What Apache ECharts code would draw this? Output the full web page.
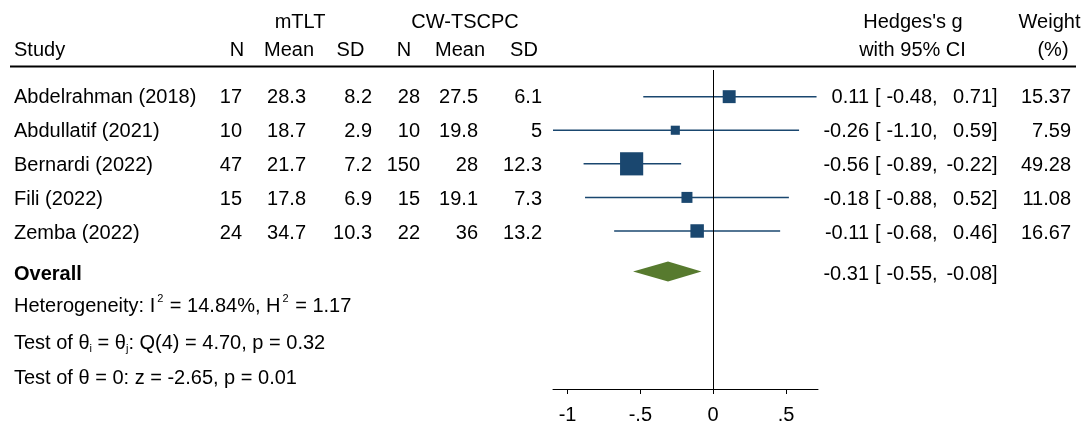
<!DOCTYPE html>
<html>
<head>
<meta charset="utf-8">
<script src="https://cdn.jsdelivr.net/npm/echarts@6/dist/echarts.min.js"></script>
<style>
  html, body { margin: 0; padding: 0; background: #fff; }
  #chart { width: 1086px; height: 425px; }
</style>
</head>
<body>
<div id="chart"></div>
<script>
// Study-level data
const studies = ['Abdelrahman (2018)', 'Abdullatif (2021)', 'Bernardi (2022)', 'Fili (2022)', 'Zemba (2022)'];
const mtltN = [17, 10, 47, 15, 24];
const mtltMean = [28.3, 18.7, 21.7, 17.8, 34.7];
const mtltSD = [8.2, 2.9, 7.2, 6.9, 10.3];
const cwN = [28, 10, 150, 15, 22];
const cwMean = [27.5, 19.8, 28, 19.1, 36];
const cwSD = [6.1, 5, 12.3, 7.3, 13.2];
const hedgesG = [0.11, -0.26, -0.56, -0.18, -0.11];
const ciLower = [-0.48, -1.10, -0.89, -0.88, -0.68];
const ciUpper = [0.71, 0.59, -0.22, 0.52, 0.46];
const weights = [15.37, 7.59, 49.28, 11.08, 16.67];
// Pooled estimate: [g, lower, upper]
const overallEffect = [-0.31, -0.55, -0.08];
const xTicks = [-1, -0.5, 0, 0.5];

const FONT = '"Liberation Sans", Arial, Helvetica, sans-serif';
const FS = 20;
const NAVY = '#1a476f';
const GREEN = '#577a2e';

// Row layout (row units; one study row = 34px)
const ROW_OVERALL = 5.206;
const ROW_STATS = [6.176, 7.235, 8.265];
const ROW_HEAD1 = -2.206;
const ROW_HEAD2 = -1.368;
const ROW_RULE = -0.897;

const fmt2 = v => v.toFixed(2);
const tickFmt = v => {
  if (v === 0) return '0';
  return String(v).replace(/^(-?)0\./, '$1.');
};

// Table text
const texts = [];
function put(x, row, text, align, extra) {
  texts.push(Object.assign({ x, row, text, align }, extra || {}));
}
put(300, ROW_HEAD1, 'mTLT', 'center');
put(465, ROW_HEAD1, 'CW-TSCPC', 'center');
put(14, ROW_HEAD2, 'Study', 'left');
put(237, ROW_HEAD2, 'N', 'center');
put(289, ROW_HEAD2, 'Mean', 'center');
put(350.5, ROW_HEAD2, 'SD', 'center');
put(404, ROW_HEAD2, 'N', 'center');
put(460, ROW_HEAD2, 'Mean', 'center');
put(524, ROW_HEAD2, 'SD', 'center');
put(913, ROW_HEAD1, "Hedges's g", 'center');
put(912.5, ROW_HEAD2, 'with 95% CI', 'center');
put(1049.5, ROW_HEAD1, 'Weight', 'center');
put(1053, ROW_HEAD2, '(%)', 'center');

function ciText(row, g, lo, hi) {
  put(869, row, fmt2(g), 'right');
  put(875, row, '[', 'left');
  put(932, row, fmt2(lo), 'right');
  put(932, row, ',', 'left');
  put(992, row, fmt2(hi), 'right');
  put(992, row, ']', 'left');
}

studies.forEach((s, i) => {
  put(14, i, s, 'left');
  put(242, i, String(mtltN[i]), 'right');
  put(306, i, String(mtltMean[i]), 'right');
  put(372, i, String(mtltSD[i]), 'right');
  put(420, i, String(cwN[i]), 'right');
  put(478, i, String(cwMean[i]), 'right');
  put(542, i, String(cwSD[i]), 'right');
  ciText(i, hedgesG[i], ciLower[i], ciUpper[i]);
  put(1071, i, fmt2(weights[i]), 'right');
});
put(14, ROW_OVERALL, 'Overall', 'left', { bold: true });
ciText(ROW_OVERALL, overallEffect[0], overallEffect[1], overallEffect[2]);
put(14, ROW_STATS[0], 'Heterogeneity: I{sup|2} = 14.84%, H{sup|2} = 1.17', 'left', { rich: 'sup' });
put(14, ROW_STATS[1], 'Test of θ{sub|i} = θ{sub|j}: Q(4) = 4.70, p = 0.32', 'left', { rich: 'sub' });
put(14, ROW_STATS[2], 'Test of θ = 0: z = -2.65, p = 0.01', 'left');

const chart = echarts.init(document.getElementById('chart'), null, { renderer: 'canvas' });

const option = {
  animation: false,
  backgroundColor: '#fff',
  grid: [
    { left: 553, width: 265, top: 70, height: 323 },
    { left: 0, width: 1086, top: 0, height: 425 }
  ],
  xAxis: [
    {
      gridIndex: 0, type: 'value', min: -1.1, max: 0.72,
      axisLine: { show: true, onZero: false, lineStyle: { color: '#000', width: 1 } },
      axisTick: { show: true, customValues: xTicks, length: 5, lineStyle: { color: '#000', width: 1 } },
      axisLabel: {
        show: true, customValues: xTicks, formatter: tickFmt, margin: 16,
        color: '#000', fontSize: FS, fontFamily: FONT
      },
      splitLine: { show: false }
    },
    { gridIndex: 1, type: 'value', min: 0, max: 1086, show: false }
  ],
  yAxis: [
    { gridIndex: 0, type: 'value', min: -0.794, max: 8.706, inverse: true, show: false },
    { gridIndex: 1, type: 'value', min: -97 / 34, max: (425 - 97) / 34, inverse: true, show: false }
  ],
  series: [
    {
      // confidence intervals and weighted squares
      type: 'custom', xAxisIndex: 0, yAxisIndex: 0,
      data: studies.map((s, i) => [hedgesG[i], ciLower[i], ciUpper[i], weights[i], i]),
      encode: { x: [0, 1, 2], y: 4 },
      renderItem: (params, api) => {
        const row = api.value(4);
        const est = api.coord([api.value(0), row]);
        const lo = api.coord([api.value(1), row]);
        const hi = api.coord([api.value(2), row]);
        const side = 3.3 * Math.sqrt(api.value(3));
        return {
          type: 'group',
          children: [
            { type: 'line', shape: { x1: lo[0], y1: lo[1], x2: hi[0], y2: hi[1] },
              style: { stroke: NAVY, lineWidth: 1.5 } },
            { type: 'rect', shape: { x: est[0] - side / 2, y: est[1] - side / 2, width: side, height: side },
              style: { fill: NAVY } }
          ]
        };
      },
      markLine: {
        silent: true, symbol: ['none', 'none'],
        label: { show: false },
        lineStyle: { color: '#000', width: 1, type: 'solid' },
        data: [{ xAxis: 0 }]
      },
      z: 3
    },
    {
      // pooled diamond
      type: 'custom', xAxisIndex: 0, yAxisIndex: 0,
      data: [[overallEffect[0], overallEffect[1], overallEffect[2], ROW_OVERALL]],
      encode: { x: [0, 1, 2], y: 3 },
      renderItem: (params, api) => {
        const row = api.value(3);
        const c = api.coord([api.value(0), row]);
        const l = api.coord([api.value(1), row]);
        const r = api.coord([api.value(2), row]);
        const h = 10;
        return {
          type: 'polygon',
          shape: { points: [[l[0], c[1]], [c[0], c[1] - h], [r[0], c[1]], [c[0], c[1] + h]] },
          style: { fill: GREEN }
        };
      },
      z: 4
    },
    {
      // header rule
      type: 'line', xAxisIndex: 1, yAxisIndex: 1,
      data: [[10, ROW_RULE], [1076, ROW_RULE]],
      symbol: 'none', silent: true,
      lineStyle: { color: '#000', width: 2 }
    },
    {
      // table text
      type: 'custom', xAxisIndex: 1, yAxisIndex: 1,
      data: texts.map(t => [t.x, t.row]),
      encode: { x: 0, y: 1 },
      silent: true,
      renderItem: (params, api) => {
        const t = texts[params.dataIndex];
        const p = api.coord([api.value(0), api.value(1)]);
        const style = {
          text: t.text, x: 0, y: 0,
          align: t.align, verticalAlign: 'middle',
          fontSize: FS, fontFamily: FONT, fontWeight: t.bold ? 'bold' : 'normal',
          fill: '#000'
        };
        if (t.rich === 'sup') {
          style.lineHeight = 28;
          style.rich = {
            sup: { fontSize: 11, fontFamily: FONT, fill: '#000', verticalAlign: 'top',
                   lineHeight: 9, padding: [0, 1, 0, 2] }
          };
        } else if (t.rich === 'sub') {
          style.lineHeight = 22;
          style.rich = {
            sub: { fontSize: 11, fontFamily: FONT, fill: '#000', verticalAlign: 'bottom', lineHeight: 16 }
          };
        }
        return { type: 'text', x: p[0], y: p[1], style };
      }
    }
  ]
};

chart.setOption(option);
</script>
</body>
</html>
